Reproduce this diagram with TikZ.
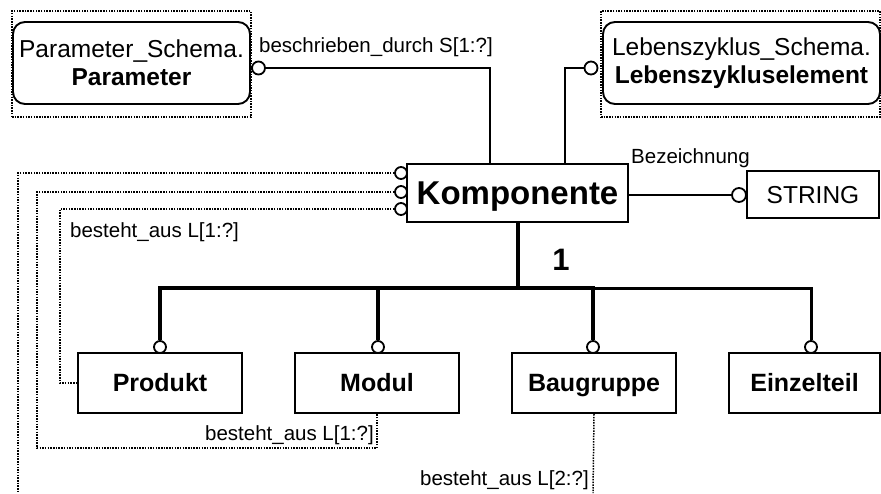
\documentclass[tikz,border=0pt]{standalone}
\usepackage{fontspec}
\setmainfont{Liberation Sans}
\usetikzlibrary{calc}
\begin{document}
\begin{tikzpicture}[x=1pt,y=-1pt,
  box/.style={draw, line width=2.2pt, inner sep=0pt, text height=17pt, text depth=0pt, font=\fontsize{25}{28}\selectfont\bfseries},
  schemabox/.style={draw, line width=1.9pt, rounded corners=12pt, inner sep=0pt, align=center, font=\fontsize{24.5}{28}\selectfont},
  dotbox/.style={draw, line width=1.5pt, dash pattern=on 1.5pt off 1.2pt, inner sep=0pt},
  dotline/.style={line width=1.5pt, dash pattern=on 1.5pt off 1.2pt},
  thinline/.style={line width=1.8pt},
  busline/.style={line width=4pt},
  busthin/.style={line width=3pt},
  ring/.style={circle, draw, line width=1.8pt, fill=white, inner sep=0pt, minimum size=#1},
  lbl/.style={inner sep=0pt, font=\fontsize{20.5}{24}\selectfont}
]
\useasboundingbox (0,0) rectangle (881,493);
\fill[white] (0,0) rectangle (881,493);

% schema boxes
\node[dotbox, minimum width=239, minimum height=106] (parout) at (131.5,64) {};
\node[schemabox, minimum width=237, minimum height=82] (par) at (131.5,63)
  {Parameter\_Schema.\\ \textbf{Parameter}};
\node[dotbox, minimum width=279, minimum height=106] (lbzout) at (740.5,64) {};
\node[schemabox, minimum width=277, minimum height=82] (lbz) at (741.5,63)
  {Lebenszyklus\_Schema.\\ \textbf{Lebenszykluselement}};

% main boxes
\node[box, minimum width=221, minimum height=58, text height=23pt, font=\fontsize{33}{36}\selectfont\bfseries] (komp) at (517.5,193) {Komponente};
\node[box, minimum width=132, minimum height=47, font=\fontsize{24.5}{28}\selectfont] (str) at (813,194.5) {STRING};
\node[box, minimum width=164, minimum height=60] (prod) at (160,383) {Produkt};
\node[box, minimum width=164, minimum height=60] (mod) at (377,383) {Modul};
\node[box, minimum width=164, minimum height=60] (bau) at (594,383) {Baugruppe};
\node[box, minimum width=151, minimum height=60] (ein) at (804.5,383) {Einzelteil};

% coordinates
\coordinate (kpar) at (490,164);
\coordinate (klbz) at (565,164);
\coordinate (bus) at (517.5,288);
\coordinate (d3) at (60,383);
\coordinate (d2) at (37,448);
\coordinate (d1) at (18,493);
\coordinate (dbau) at (593,493);

% rings
\node[ring=13] (cpar) at (258.5,68) {};
\node[ring=13] (clbz) at (591,68) {};
\node[ring=14] (cstr) at (739,195) {};
\node[ring=12] (ck1) at (401,173) {};
\node[ring=12] (ck2) at (401,192) {};
\node[ring=12] (ck3) at (401,209) {};
\node[ring=12] (cprod) at (160,347) {};
\node[ring=12] (cmod) at (378,347) {};
\node[ring=12] (cbau) at (593,347) {};
\node[ring=12] (cein) at (811,347) {};

% connectors
\draw[thinline] (cpar.east) -| (kpar);
\draw[thinline] (clbz.west) -| (klbz);
\draw[thinline] (komp.east |- cstr) -- (cstr.west);

\draw[busline] (komp.south) -- (bus);
\draw[busline] (cprod.north) |- (cbau.north |- bus) -- (cbau.north);
\draw[busline] (cmod.north) -- (cmod.north |- bus);
\draw[busthin] (cbau.north |- bus) -| (cein.north);

\draw[dotline] (ck3.west) -| (d3) -- (prod.west);
\draw[dotline] (ck2.west) -| (d2) -| (mod.south);
\draw[dotline] (ck1.west) -| (d1);
\draw[dotline] (bau.south) -- (dbau);

% labels
\node[lbl, anchor=west] (lbesch) at (259,47) {beschrieben\_durch S[1:?]};
\node[lbl, anchor=west] (lbez) at (631,158) {Bezeichnung};
\node[lbl, anchor=west] (lb1) at (70,232) {besteht\_aus L[1:?]};
\node[lbl, anchor=east] (lb2) at (374,435) {besteht\_aus L[1:?]};
\node[lbl, anchor=east] (lb3) at (589,480) {besteht\_aus L[2:?]};
\node[inner sep=0pt, font=\fontsize{31}{32}\selectfont\bfseries] (one) at (561,260) {1};
\end{tikzpicture}
\end{document}
